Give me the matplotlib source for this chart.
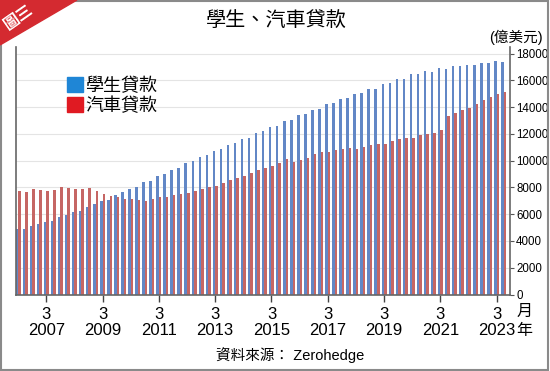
import matplotlib
matplotlib.use('Agg')
import matplotlib.pyplot as plt
from matplotlib import font_manager
from matplotlib.patches import Patch, Polygon, Rectangle

plt.rcParams['font.family'] = ['Liberation Sans', 'Noto Sans CJK TC', 'DejaVu Sans']

# quarterly, 2006Q1 .. 2023Q2, unit: 億美元
quarters = [f'{y}Q{q}' for y in range(2006, 2024) for q in range(1, 5)][:70]

student = [4863, 4913, 5112, 5237, 5435, 5485, 5759, 5933, 6182, 6256,
           6555, 6729, 7003, 7052, 7401, 7625, 7923, 8070, 8421, 8470,
           8869, 8993, 9316, 9490, 9839, 10013, 10287, 10461, 10759, 10859,
           11182, 11331, 11655, 11729, 12103, 12202, 12525, 12600, 12948, 13023,
           13396, 13471, 13769, 13894, 14242, 14316, 14590, 14665, 15013, 15063,
           15337, 15386, 15750, 15809, 16083, 16083, 16456, 16456, 16680, 16630,
           16904, 16879, 17078, 17078, 17177, 17177, 17327, 17327, 17451, 17376]

auto = [7749, 7674, 7849, 7799, 7749, 7799, 8048, 7973, 7923, 7923,
        7948, 7724, 7500, 7376, 7301, 7127, 7102, 7030, 6978, 7102,
        7252, 7301, 7401, 7476, 7550, 7724, 7898, 7998, 8097, 8346,
        8570, 8694, 8869, 9092, 9341, 9450, 9590, 9839, 10137, 9889,
        10038, 10237, 10486, 10635, 10685, 10834, 10909, 10983, 10909, 11033,
        11157, 11282, 11260, 11480, 11605, 11729, 11680, 11904, 12028, 12103,
        12277, 13346, 13595, 13769, 13918, 14267, 14566, 14764, 14963, 15137]

tick_years = ['2007', '2009', '2011', '2013', '2015', '2017', '2019', '2021', '2023']

# narrow face for the right axis numbers if it is there
names = {f.name for f in font_manager.fontManager.ttflist}
if 'Liberation Sans Narrow' in names:
    yfont, ysize = 'Liberation Sans Narrow', 10
else:
    yfont, ysize = 'Liberation Sans', 8.3

W, H = 550, 371
fig = plt.figure(figsize=(W / 100, H / 100), dpi=100)
ax = fig.add_axes([16 / W, 76.5 / H, 494 / W, 247.5 / H])

blue = '#6287c6'
red = '#c66664'
w = 0.36
x = list(range(len(quarters)))
ax.bar([i - w / 2 for i in x], student, width=w, color=blue, zorder=2)
ax.bar([i + w / 2 for i in x], auto, width=w, color=red, zorder=2)

ax.set_xlim(-0.3, 69.9)
ax.set_ylim(0, 18500)

ax.yaxis.tick_right()
ax.set_yticks(range(0, 18001, 2000))
ax.tick_params(axis='y', length=3, pad=1.5, color='#555')
for t in ax.get_yticklabels():
    t.set_family(yfont)
    t.set_fontsize(ysize)
ax.grid(axis='y', color='#e4e4e4', lw=0.8, zorder=0)

ticks = [quarters.index(y + 'Q1') for y in tick_years]
ax.set_xticks(ticks)
ax.set_xticklabels(['3\n' + y for y in tick_years], fontsize=12, linespacing=1.05)
ax.tick_params(axis='x', length=5, width=1, color='#444', pad=4)

ax.spines['top'].set_visible(False)
for s in ['left', 'right', 'bottom']:
    ax.spines[s].set_color('#666')
    ax.spines[s].set_linewidth(1.2)

leg = ax.legend(handles=[Patch(color='#1f86d6', label='學生貸款'),
                         Patch(color='#e01a22', label='汽車貸款')],
                loc='upper left', bbox_to_anchor=(60 / W, 1 - 70 / H),
                bbox_transform=fig.transFigure, frameon=False, fontsize=13,
                handlelength=0.85, handleheight=0.85, handletextpad=0.15,
                labelspacing=0.15, borderaxespad=0)

fig.text(276 / W, 1 - 20 / H, '學生、汽車貸款', ha='center', va='center', fontsize=14.5)
fig.text(516 / W, 1 - 37 / H, '(億美元)', ha='center', va='center', fontsize=10.5)
fig.text(525 / W, 1 - 311 / H, '月', ha='center', va='center', fontsize=11.5)
fig.text(524 / W, 1 - 331 / H, '年', ha='center', va='center', fontsize=11.5)
fig.text(290 / W, 1 - 355 / H, '資料來源： Zerohedge', ha='center', va='center', fontsize=10.5)

# frame and corner tag
fig.patches.append(Rectangle((0.002, 0.003), 0.995, 0.993, transform=fig.transFigure,
                             fill=False, ec='#8a8a8a', lw=1.5))
fig.patches.append(Polygon([(0, 1), (77 / W, 1), (0, 1 - 45 / H)], closed=True,
                           transform=fig.transFigure, color='#d42a30'))
fig.text(19 / W, 1 - 17 / H, '圖三', color='white', fontsize=11.5, fontweight='bold',
         rotation=35, ha='center', va='center')

fig.savefig('out.png', dpi=100)
